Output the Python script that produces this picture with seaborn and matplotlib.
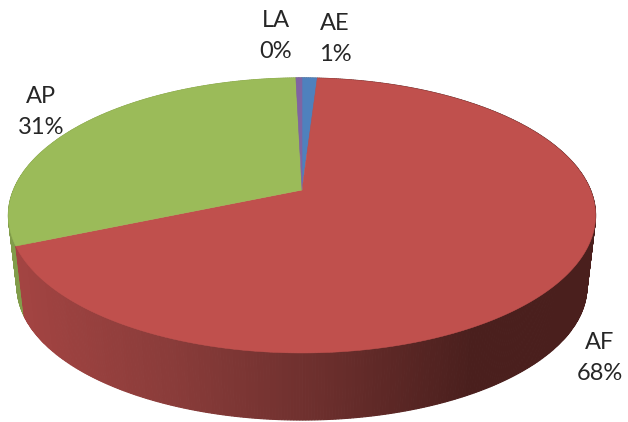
import numpy as np
import matplotlib
matplotlib.use("Agg")
import matplotlib.pyplot as plt
import seaborn as sns

# Data
labels = ["AE", "AF", "AP", "LA"]
values = [1.0, 67.6, 31.0, 0.4]
shown = ["1%", "68%", "31%", "0%"]
top_colors = ["#4f81bd", "#c0504d", "#9bbb59", "#8064a2"]
side_stops = {
    "AE": ["#3b618e", "#3b618e"],
    "AF": ["#a34442", "#8a3c3a", "#6c2f2d", "#4a1f1d"],
    "AP": ["#7f9a49", "#8aa54f"],
    "LA": ["#604b7a", "#604b7a"],
}
label_xy = {"AE": (335, 39), "AF": (600, 358), "AP": (41, 112), "LA": (276, 36)}

sns.set_theme(style="white")
plt.rcParams["font.family"] = ["Lato", "DejaVu Sans"]

fig = plt.figure(figsize=(6.28, 4.22), dpi=100, facecolor="white")
ax = fig.add_axes([0, 0, 1, 1])
ax.set_xlim(0, 628)
ax.set_ylim(422, 0)
ax.axis("off")

K = 0.185
CX = 302


def project(theta_deg, f, g, y0):
    t = np.radians(theta_deg)
    X, Y = np.sin(t), np.cos(t)
    d = 1 + K * Y
    return CX + f * X / d, y0 - g * Y / d


TOP = (288.5, 132.8, 190.0)
BOT = (280.0, 128.8, 262.0)

edges = np.concatenate([[0], np.cumsum(values)]) / sum(values) * 360

# Side wall, strip by strip, with colour following screen x
order = [2, 3, 0, 1]
for i in order:
    a0, a1 = edges[i], edges[i + 1]
    n = max(int((a1 - a0) * 2), 2)
    ts = np.linspace(a0, a1, n + 1)
    lut = sns.blend_palette(side_stops[labels[i]], n_colors=256)
    lo, hi = (20, 470) if labels[i] == "AF" else (10, 30)
    for t0, t1 in zip(ts[:-1], ts[1:]):
        x0, y0 = project(t0, *TOP)
        x1, y1 = project(t1, *TOP)
        x2, y2 = project(t1, *BOT)
        x3, y3 = project(t0, *BOT)
        mid = (x0 + x1 + x2 + x3) / 4
        c = lut[int(np.clip((mid - lo) / (hi - lo), 0, 1) * 255)]
        ax.fill([x0, x1, x2, x3], [y0, y1, y2, y3], color=c, lw=0.8, zorder=1)

# Top face
apex = project(90, 0, 0, TOP[2])
for i, col in enumerate(top_colors):
    ts = np.linspace(edges[i], edges[i + 1], max(int(edges[i + 1] - edges[i]) * 2, 4))
    xs, ys = project(ts, *TOP)
    ax.fill(np.r_[apex[0], xs], np.r_[apex[1], ys], color=col, lw=0.4, zorder=2)

# Labels
for name, pct in zip(labels, shown):
    x, y = label_xy[name]
    ax.text(x, y, f"{name}\n{pct}", ha="center", va="center", fontsize=17,
            color="#262626", linespacing=1.55, zorder=3)

fig.savefig("out.png", dpi=100)
